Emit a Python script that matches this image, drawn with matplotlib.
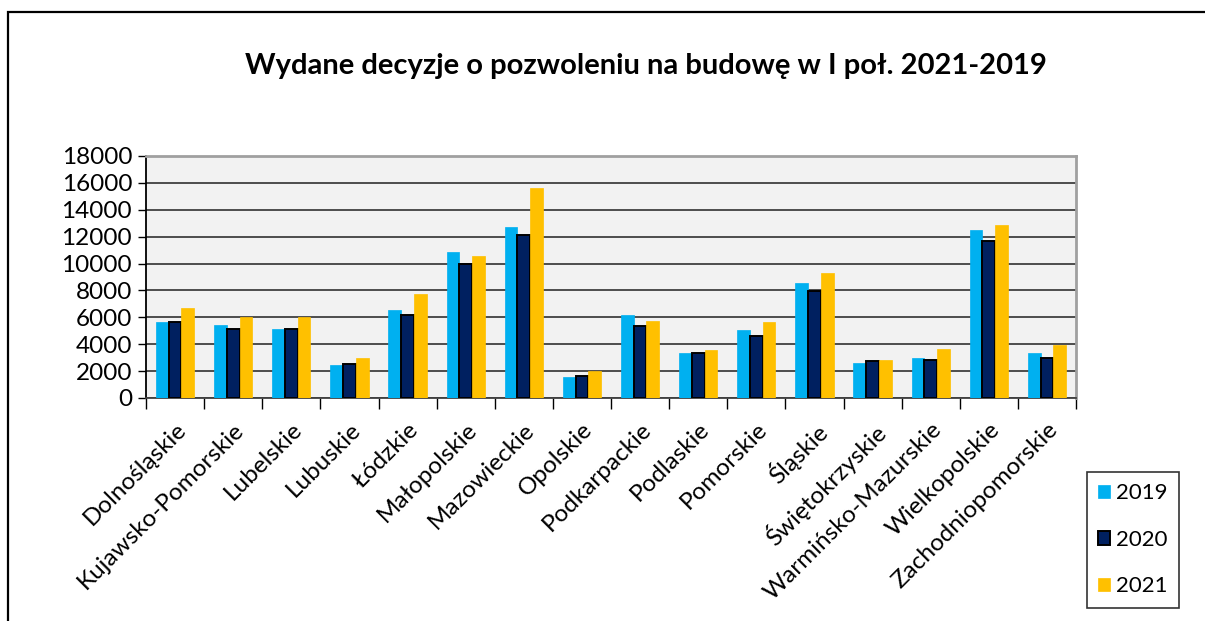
import matplotlib.pyplot as plt
import numpy as np
from matplotlib.patches import Rectangle

plt.rcParams["font.family"] = ["Lato", "DejaVu Sans"]

regions = [
    "Dolnośląskie", "Kujawsko-Pomorskie", "Lubelskie", "Lubuskie", "Łódzkie",
    "Małopolskie", "Mazowieckie", "Opolskie", "Podkarpackie", "Podlaskie",
    "Pomorskie", "Śląskie", "Świętokrzyskie", "Warmińsko-Mazurskie",
    "Wielkopolskie", "Zachodniopomorskie",
]
v2019 = [5630, 5430, 5160, 2490, 6570, 10860, 12740, 1530, 6200, 3360,
         5040, 8590, 2590, 2960, 12470, 3360]
v2020 = [5680, 5110, 5110, 2540, 6170, 9930, 12150, 1600, 5380, 3310,
         4620, 7950, 2770, 2840, 11680, 2940]
v2021 = [6670, 6000, 6000, 2960, 7730, 10570, 15600, 1975, 5730, 3560,
         5630, 9330, 2790, 3630, 12840, 3950]
years = ["2019", "2020", "2021"]
colors = ["#00B0F0", "#002060", "#FFC000"]

W, H = 1205, 621
fig = plt.figure(figsize=(W / 100, H / 100), dpi=100)

# outer chart border (left/top visible, rest cut off)
fig.patches.append(Rectangle((8 / W, -0.1), 1.2, (H - 12) / H + 0.1,
                             transform=fig.transFigure, fill=False,
                             edgecolor="black", linewidth=1.6))

ax = fig.add_axes([146 / W, 1 - 398 / H, (1076 - 146) / W, (398 - 156) / H])
ax.set_facecolor("#F2F2F2")

x = np.arange(len(regions))
bw = 0.22
for i, (vals, c) in enumerate(zip([v2019, v2020, v2021], colors)):
    ec = "black" if i == 1 else c
    ax.bar(x + (i - 1) * bw, vals, bw, color=c, edgecolor=ec,
           linewidth=1.4 if i == 1 else 0.5, label=years[i], zorder=3)

ax.set_xlim(-0.5, len(regions) - 0.5)
ax.set_ylim(0, 18000)
ax.set_yticks(np.arange(0, 18001, 2000))
ax.tick_params(axis="y", labelsize=17.5, length=6, width=1, direction="out", pad=4)
ax.yaxis.grid(True, color="#404040", linewidth=1.3, zorder=1)
ax.set_axisbelow(True)

ax.set_xticks(np.arange(-0.5, len(regions), 1), minor=False)
ax.set_xticklabels([])
ax.set_xticks(x, minor=True)
ax.set_xticklabels(regions, minor=True, rotation=45, ha="right",
                   rotation_mode="anchor", fontsize=17.5)
ax.tick_params(axis="x", which="major", length=8, width=1, direction="out")
ax.tick_params(axis="x", which="minor", length=0, pad=15)

for side in ["top", "right"]:
    ax.spines[side].set_color("#A0A0A0")
    ax.spines[side].set_linewidth(2)
ax.spines["left"].set_color("black")
ax.spines["left"].set_linewidth(1.3)
ax.spines["bottom"].set_color("#404040")
ax.spines["bottom"].set_linewidth(1.3)

fig.text(646 / W, 1 - 66 / H, "Wydane decyzje o pozwoleniu na budowę w I poł. 2021-2019",
         ha="center", va="center", fontsize=21, fontweight="bold")

leg = fig.legend(loc="upper left", bbox_to_anchor=(1087 / W, 1 - 472 / H),
                 fontsize=16, frameon=True, fancybox=False, edgecolor="black",
                 handlelength=0.55, handleheight=0.55, handletextpad=0.25,
                 labelspacing=1.2, borderpad=0.5, borderaxespad=0)
leg.get_frame().set_linewidth(1.2)

fig.savefig("out.png", dpi=100)
